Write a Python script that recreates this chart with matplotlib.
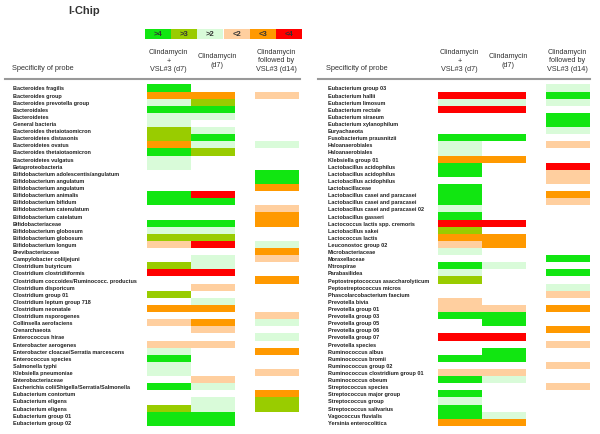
import matplotlib
matplotlib.use("Agg")
import matplotlib.pyplot as plt
from matplotlib.lines import Line2D
from matplotlib.transforms import blended_transform_factory

plt.rcParams['font.family'] = ['Liberation Sans', 'DejaVu Sans']

# fold-change classes and colours
classes = ['>4', '>3', '>2', '<2', '<3', '<4']
class_colors = ['#11e611', '#99cc00', '#d9fbd9', '#ffcf9f', '#ff9900', '#ff0000']

headers = ['Clindamycin\n+\nVSL#3 (d7)', 'Clindamycin\n(d7)', 'Clindamycin\nfollowed by\nVSL#3 (d14)']

left_labels = [
    'Bacteroides fragilis', 'Bacteroides group', 'Bacteroides prevotella group', 'Bacteroidales',
    'Bacteroidetes', 'General bacteria', 'Bacteroides thetaiotaomicron', 'Bacteroidetes distasonis',
    'Bacteroidetes ovatus', 'Bacteroides thetaiotaomicron', 'Bacteroidetes vulgatus', 'Betaproteobacteria',
    'Bifidobacterium adolescentis/angulatum', 'Bifidobacterium angulatum', 'Bifidobacterium angulatum',
    'Bifidobacterium animalis', 'Bifidobacterium bifidum', 'Bifidobacterium catenulatum',
    'Bifidobacterium catelatum', 'Bifidobacteriaceae', 'Bifidobacterium globosum',
    'Bifidobacterium globosum', 'Bifidobacterium longum', 'Brevibacteriaceae', 'Campylobacter coli/jejuni',
    'Clostridium butyricum', 'Clostridium clostridiiformis', 'Clostridium coccoides/Ruminococc. productus',
    'Clostridium disporicum', 'Clostridium group 01', 'Clostridium leptum group 718', 'Clostridium neonatale',
    'Clostridium nsporogenes', 'Collinsella aerofaciens', 'Crenarchaeota', 'Enterococcus hirae',
    'Enterobacter aerogenes', 'Enterobacter cloacae/Serratia marcescens', 'Enterococcus species',
    'Salmonella typhi', 'Klebsiella pneumoniae', 'Enterobacteriaceae',
    'Escherichia coli/Shigella/Serratia/Salmonella', 'Eubacterium contortum', 'Eubacterium eligens',
    'Eubacterium eligens', 'Eubacterium group 01', 'Eubacterium group 02',
]
left_clin_vsl = ['>4', '<3', '>2', '>4', '>2', '>2', '>3', '>3', '<3', '>4', '>2', '>2',
                 '', '', '', '>4', '>4', '', '', '>4', '>2', '>3', '<2', '',
                 '', '>3', '<4', '', '', '>3', '', '<3', '', '<2', '', '',
                 '<2', '>2', '>4', '>2', '>2', '', '>4', '', '', '>3', '>4', '>4']
left_clin = ['', '<3', '>3', '>4', '>2', '', '>2', '>4', '>2', '>3', '', '',
             '', '', '', '<4', '>4', '', '', '>4', '>2', '>3', '<4', '',
             '>2', '>2', '<4', '', '<2', '', '>2', '<3', '', '<3', '<2', '',
             '<2', '', '', '', '', '<2', '>2', '', '>2', '>2', '>4', '>4']
left_clin_then_vsl = ['', '<2', '', '', '', '', '', '', '>2', '', '', '',
                      '>4', '>4', '<3', '', '', '<2', '<3', '<3', '', '', '>2', '<3',
                      '<2', '', '', '<3', '', '', '', '', '<2', '>2', '', '>2',
                      '', '<3', '', '', '<2', '', '', '<3', '>3', '>3', '', '']

right_labels = [
    'Eubacterium group 03', 'Eubacterium hallii', 'Eubacterium limosum', 'Eubacterium rectale',
    'Eubacterium siraeum', 'Eubacterium xylanophilum', 'Euryachaeota', 'Fusobacterium prausnitzii',
    'Haloanaerobiales', 'Haloanaerobiales', 'Klebsiella group 01', 'Lactobacillus acidophilus',
    'Lactobacillus acidophilus', 'Lactobacillus acidophilus', 'Lactobacillaceae',
    'Lactobacillus casei and paracasei', 'Lactobacillus casei and paracasei',
    'Lactobacillus casei and paracasei 02', 'Lactobacillus gasseri', 'Lactococcus lactis spp. cremoris',
    'Lactobacillus sakei', 'Lactococcus lactis', 'Leuconostoc group 02', 'Microbacteriaceae',
    'Moraxellaceae', 'Nitrospirae', 'Parabasilidea', 'Peptostreptococcus asaccharolyticum',
    'Peptostreptococcus micros', 'Phascolarcobacterium faecium', 'Prevotella bivia', 'Prevotella group 01',
    'Prevotella group 03', 'Prevotella group 05', 'Prevotella group 06', 'Prevotella group 07',
    'Prevotella species', 'Ruminococcus albus', 'Ruminococcus bromii', 'Ruminococcus group 02',
    'Ruminococcus clostridium group 01', 'Ruminococcus obeum', 'Streptococcus species',
    'Streptococcus major group', 'Streptococcus group', 'Streptococcus salivarius',
    'Vagococcus fluvialis', 'Yersinia enterocolitica',
]
right_clin_vsl = ['', '<4', '>2', '<4', '', '', '', '>4', '>2', '>2', '<3', '>4',
                  '>4', '', '>4', '>4', '>4', '>2', '>4', '<4', '>3', '<3', '<2', '>2',
                  '', '>4', '>2', '>3', '', '', '<2', '<2', '>4', '', '', '<4',
                  '', '', '>4', '', '<2', '>4', '', '>4', '>2', '>4', '>4', '<3']
right_clin = ['', '<4', '>2', '<4', '', '', '', '>4', '', '', '<3', '',
              '', '', '', '', '', '', '', '<4', '', '<3', '<3', '',
              '', '>2', '', '', '', '', '', '<2', '>4', '>4', '', '<4',
              '', '>4', '>4', '', '<2', '>2', '', '', '', '', '>2', '<3']
right_clin_then_vsl = ['>2', '>4', '>2', '', '>4', '>4', '>2', '', '<2', '', '', '<4',
                       '<2', '<2', '', '<3', '<2', '', '', '', '', '', '', '',
                       '>4', '', '>4', '', '>2', '<2', '', '<3', '', '', '<3', '',
                       '<2', '', '', '<2', '', '', '<2', '', '', '', '', '']

W, H = 600, 435
fig = plt.figure(figsize=(W / 100, H / 100), dpi=100)
color_of = dict(zip(classes, class_colors))

col_lefts = [0, 1, 2.45]
head_offsets = [-0.05, 0.6, -0.05]
row_top, row_bot = 85.4, 426.9


def px(x, y):
    return x / W, 1 - y / H


def draw_table(x0, labels, columns, label_x, head_x):
    ax = fig.add_axes([x0 / W, 1 - row_bot / H, 153 / W, (row_bot - row_top) / H])
    n = len(labels)
    for cl, vals in zip(col_lefts, columns):
        for i, v in enumerate(vals):
            if v:
                ax.barh(i, 1, left=cl, height=1.0, color=color_of[v], linewidth=0)
    ax.set_xlim(0, 3.48)
    ax.set_ylim(n - 0.5, -0.5)
    ax.axis('off')
    tr = blended_transform_factory(fig.transFigure, ax.transData)
    for i, lab in enumerate(labels):
        ax.text(label_x / W, i, lab, transform=tr, fontsize=4, fontweight='bold',
                color='#222222', va='center', ha='left')
    # column headers
    for cl, off, h in zip(col_lefts, head_offsets, headers):
        cx = x0 + (cl + 0.5) * 44 + off * 7
        fig.text(cx / W, 1 - 61 / H, h, fontsize=5.2, color='#333333',
                 ha='center', va='center', linespacing=1.3)
    fig.text(*px(head_x, 69), 'Specificity of probe', fontsize=5.3, color='#333333',
             ha='left', va='center')
    return ax


draw_table(147, left_labels, [left_clin_vsl, left_clin, left_clin_then_vsl], 13, 12)
draw_table(438, right_labels, [right_clin_vsl, right_clin, right_clin_then_vsl], 328, 326)

# grey rules under the headers
fig.add_artist(Line2D([5 / W, 300 / W], [1 - 80 / H] * 2, color='#999999', lw=1.5))
fig.add_artist(Line2D([318 / W, 590 / W], [1 - 80 / H] * 2, color='#999999', lw=1.5))

# colour key
lax = fig.add_axes([145 / W, 1 - 40 / H, 157 / W, 10.5 / H])
lax.barh(0, [1] * len(classes), left=range(len(classes)), height=1, color=class_colors, linewidth=0)
for i, c in enumerate(classes):
    lax.text(i + 0.5, 0, c, ha='center', va='center', fontsize=5.5, fontweight='bold', color='#333333')
lax.set_xlim(0, len(classes))
lax.set_ylim(-0.5, 0.5)
lax.axis('off')

fig.text(*px(68, 11), 'I-Chip', fontsize=8, fontweight='bold', color='#333333', ha='left', va='center')

fig.savefig('out.png', dpi=100)
